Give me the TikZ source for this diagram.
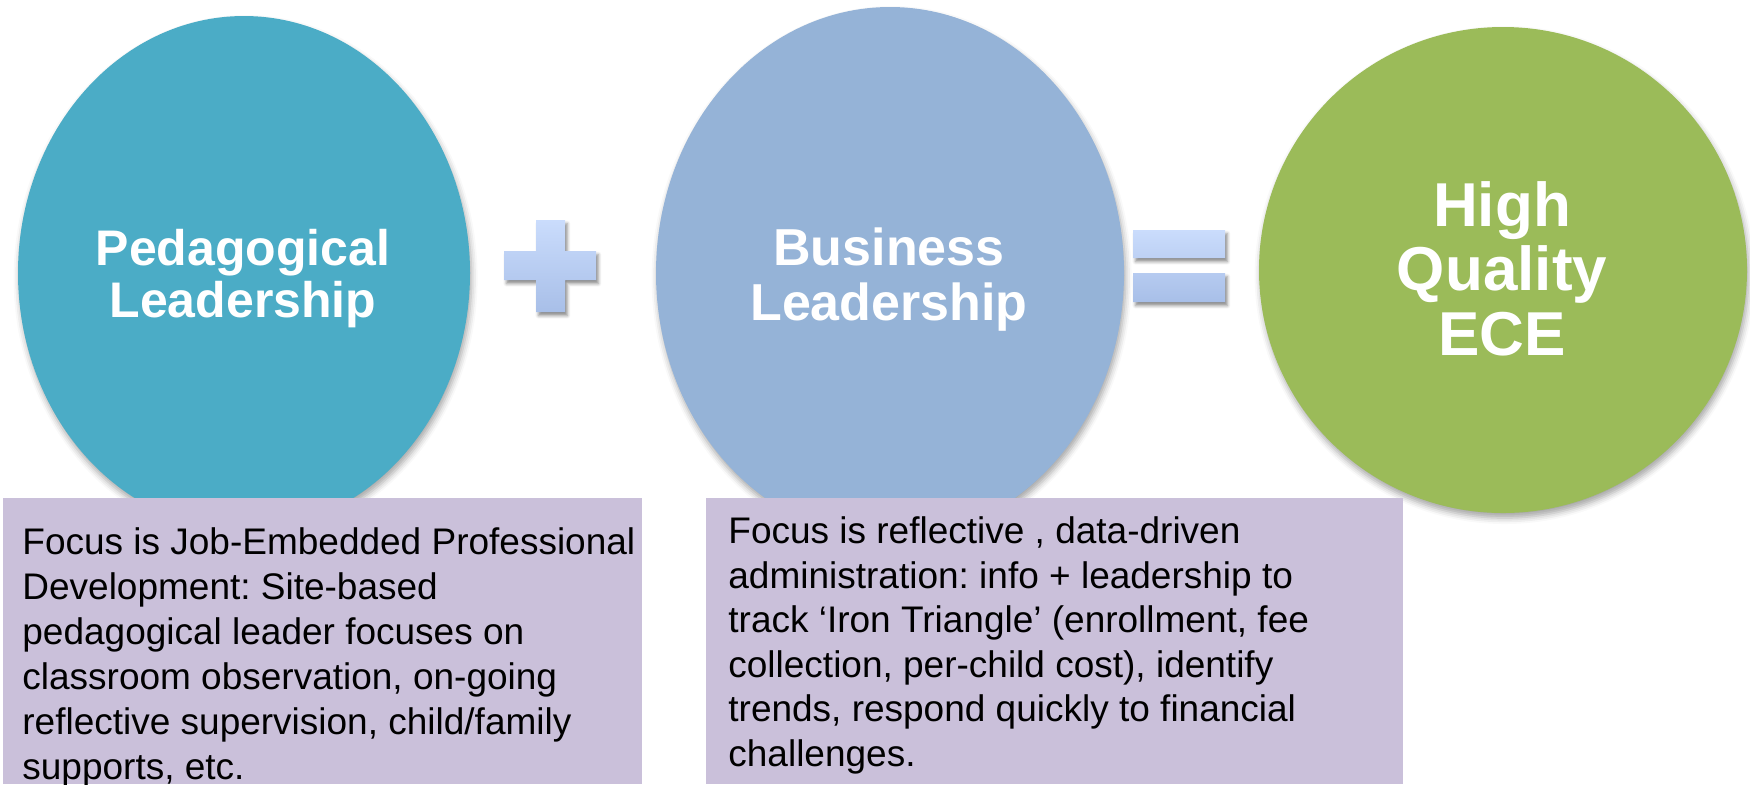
\documentclass[tikz,border=0pt]{standalone}
\usepackage{fontspec}
\setmainfont{Liberation Sans}
\usetikzlibrary{shapes.geometric,shadows.blur}
\definecolor{cTeal}{HTML}{4BACC6}
\definecolor{cBlue}{HTML}{95B3D7}
\definecolor{cGreen}{HTML}{9BBB59}
\definecolor{cLav}{HTML}{CAC0DA}
\definecolor{opTop}{HTML}{CADCFC}
\definecolor{opBot}{HTML}{A8BFE8}
\frenchspacing
\begin{document}
\begin{tikzpicture}[x=0.5pt,y=-0.5pt,
  bubble/.style={ellipse, inner sep=0pt, draw=none,
    blur shadow={shadow xshift=0.8pt, shadow yshift=-2.5pt, shadow blur radius=3pt, shadow opacity=35}},
  btext/.style={text=white, anchor=base, inner sep=0pt},
  infobox/.style={fill=cLav, draw=none, inner sep=0pt, outer sep=0pt, anchor=north west},
  itext/.style={anchor=base west, inner sep=0pt, text=black, font=\fontsize{18.5pt}{22.5pt}\selectfont},
  opshape/.style={top color=opTop, bottom color=opBot, draw=none,
    blur shadow={shadow xshift=1.2pt, shadow yshift=-1.8pt, shadow blur radius=1.5pt, shadow opacity=45}}
]
\useasboundingbox (0,0) rectangle (1750,784);

% bubbles
\node[bubble, fill=cTeal, minimum width=226pt, minimum height=257pt] (c1) at (244,273) {};
\node[bubble, fill=cBlue, minimum width=234pt, minimum height=266pt] (c2) at (890,273) {};
\node[bubble, fill=cGreen, minimum width=244pt, minimum height=243pt] (c3) at (1503,270) {};

% operators
\path[opshape] (536,220) -- (565,220) -- (565,251) -- (596,251) -- (596,280) -- (565,280)
  -- (565,312) -- (536,312) -- (536,280) -- (504,280) -- (504,251) -- (536,251) -- cycle;
\path[opshape] (1133,230) rectangle (1225,258) (1133,273) rectangle (1225,302);

% bubble texts
\begin{scope}[font=\fontsize{25pt}{26pt}\selectfont\bfseries]
\node[btext] (c1a) at (243,265) {Pedagogical};
\node[btext] (c1b) at (243,317) {Leadership};
\end{scope}
\begin{scope}[font=\fontsize{26pt}{27pt}\selectfont\bfseries]
\node[btext] (c2a) at (889,265) {Business};
\node[btext] (c2b) at (889,320) {Leadership};
\end{scope}
\begin{scope}[font=\fontsize{31pt}{32pt}\selectfont\bfseries]
\node[btext] (c3a) at (1502,226) {High};
\node[btext] (c3b) at (1502,290.5) {Quality};
\node[btext] (c3c) at (1502,355) {ECE};
\end{scope}

% info boxes
\node[infobox, minimum width=319.5pt, minimum height=143pt] (b1) at (3,498) {};
\node[infobox, minimum width=348.5pt, minimum height=143pt] (b2) at (706,498) {};

\node[itext] (b1l1) at (22,554) {Focus is Job-Embedded Professional};
\node[itext] (b1l2) at (22,599) {Development: Site-based};
\node[itext] (b1l3) at (22,644) {pedagogical leader focuses on};
\node[itext] (b1l4) at (22,689) {classroom observation, on-going};
\node[itext] (b1l5) at (22,734) {reflective supervision, child/family};
\node[itext] (b1l6) at (22,779) {supports, etc.};

\node[itext] (b2l1) at (728,543) {Focus is reflective , data-driven};
\node[itext] (b2l2) at (728,588) {administration: info + leadership to};
\node[itext] (b2l3) at (728,632) {track ‘Iron Triangle’ (enrollment, fee};
\node[itext] (b2l4) at (728,677) {collection, per-child cost), identify};
\node[itext] (b2l5) at (728,721) {trends, respond quickly to financial};
\node[itext] (b2l6) at (728,766) {challenges.};
\end{tikzpicture}
\end{document}
